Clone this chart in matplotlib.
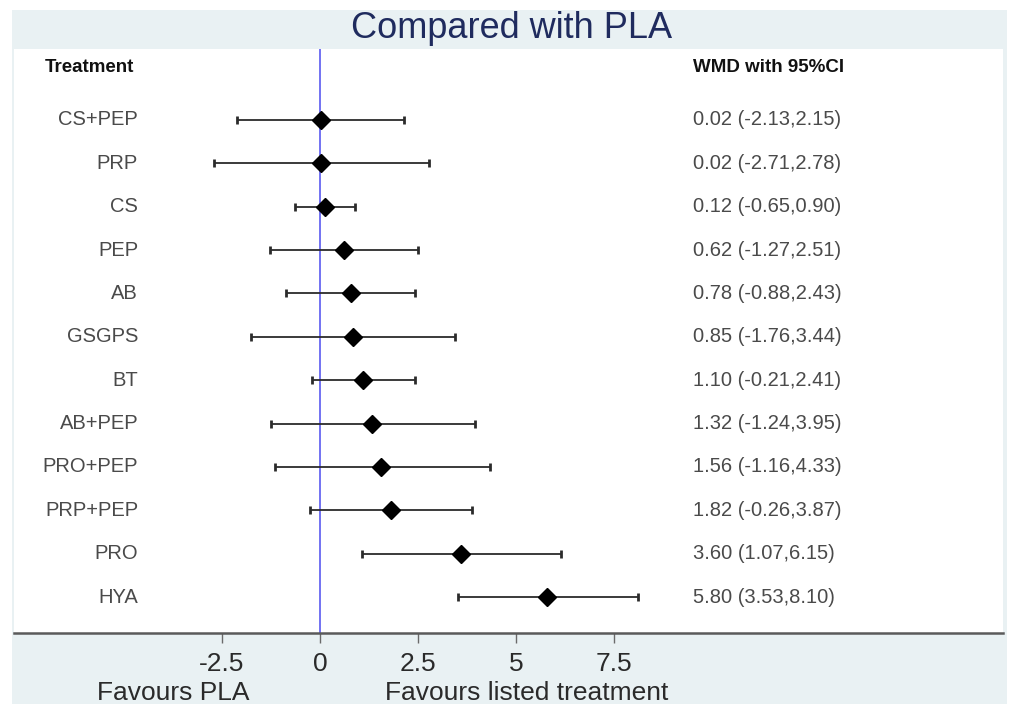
import matplotlib
matplotlib.use("Agg")
import matplotlib.pyplot as plt
import matplotlib.transforms as mtransforms

plt.rcParams['font.family'] = ['Liberation Sans', 'DejaVu Sans']

treatments = ["CS+PEP", "PRP", "CS", "PEP", "AB", "GSGPS", "BT",
              "AB+PEP", "PRO+PEP", "PRP+PEP", "PRO", "HYA"]
wmd = [0.02, 0.02, 0.12, 0.62, 0.78, 0.85, 1.10, 1.32, 1.56, 1.82, 3.60, 5.80]
lower = [-2.13, -2.71, -0.65, -1.27, -0.88, -1.76, -0.21, -1.24, -1.16, -0.26, 1.07, 3.53]
upper = [2.15, 2.78, 0.90, 2.51, 2.43, 3.44, 2.41, 3.95, 4.33, 3.87, 6.15, 8.10]
xticks = [-2.5, 0, 2.5, 5, 7.5]
xticklabels = ["-2.5", "0", "2.5", "5", "7.5"]

W, H = 1014, 710
fig = plt.figure(figsize=(W / 100, H / 100), dpi=100, facecolor="white")

panel = "#e9f1f3"
# outer panel as a background axes
bg = fig.add_axes([12 / W, 1 - 704 / H, (1007 - 12) / W, (704 - 10) / H], zorder=0)
bg.set_facecolor(panel)
bg.set_xticks([])
bg.set_yticks([])
for s in bg.spines.values():
    s.set_visible(False)

ax = fig.add_axes([14 / W, 1 - 633 / H, (1003 - 14) / W, (633 - 49) / H], zorder=1)
ax.set_facecolor("white")

rows = list(range(len(treatments)))
xerr = [[w - l for w, l in zip(wmd, lower)], [u - w for w, u in zip(wmd, upper)]]

ax.axvline(0, color="#5a5af0", lw=1.2, zorder=1)
ax.errorbar(wmd, rows, xerr=xerr, fmt="D", color="black", markersize=9,
            ecolor="#2b2b2b", elinewidth=1.3, capsize=3, capthick=2, zorder=3)

ax.set_xlim(-7.806, 17.42)
ax.set_ylim(11.83, -1.637)

for spine in ["top", "left", "right"]:
    ax.spines[spine].set_visible(False)
ax.spines["bottom"].set_color("#5a5a5a")
ax.spines["bottom"].set_linewidth(1.8)
ax.set_yticks([])
ax.set_xticks(xticks)
ax.set_xticklabels(xticklabels, fontsize=19, color="#2a2a2a")
ax.tick_params(axis="x", direction="out", length=7, width=1, color="#6a6a6a", pad=7)

for r, t, w, l, u in zip(rows, treatments, wmd, lower, upper):
    ax.text(-4.64, r, t, ha="right", va="center", fontsize=14.5, color="#4a4a4a")
    ax.text(9.52, r, f"{w:.2f} ({l:.2f},{u:.2f})", ha="left", va="center",
            fontsize=14.5, color="#4a4a4a")

ax.text(-7.02, -1.22, "Treatment", ha="left", va="center", fontsize=13.5,
        fontweight="bold", color="#111111")
ax.text(9.52, -1.22, "WMD with 95%CI", ha="left", va="center", fontsize=13.5,
        fontweight="bold", color="#111111")

trans = mtransforms.blended_transform_factory(ax.transData, fig.transFigure)
ax.text(-3.75, 1 - 693 / H, "Favours PLA", ha="center", va="center", fontsize=19,
        color="#2a2a2a", transform=trans, clip_on=False)
ax.text(5.26, 1 - 693 / H, "Favours listed treatment", ha="center", va="center",
        fontsize=19, color="#2a2a2a", transform=trans, clip_on=False)

fig.text(512 / W, 1 - 29 / H, "Compared with PLA", ha="center", va="center",
         fontsize=26, color="#1f2b5e")

fig.savefig("out.png", dpi=100, facecolor="white")
